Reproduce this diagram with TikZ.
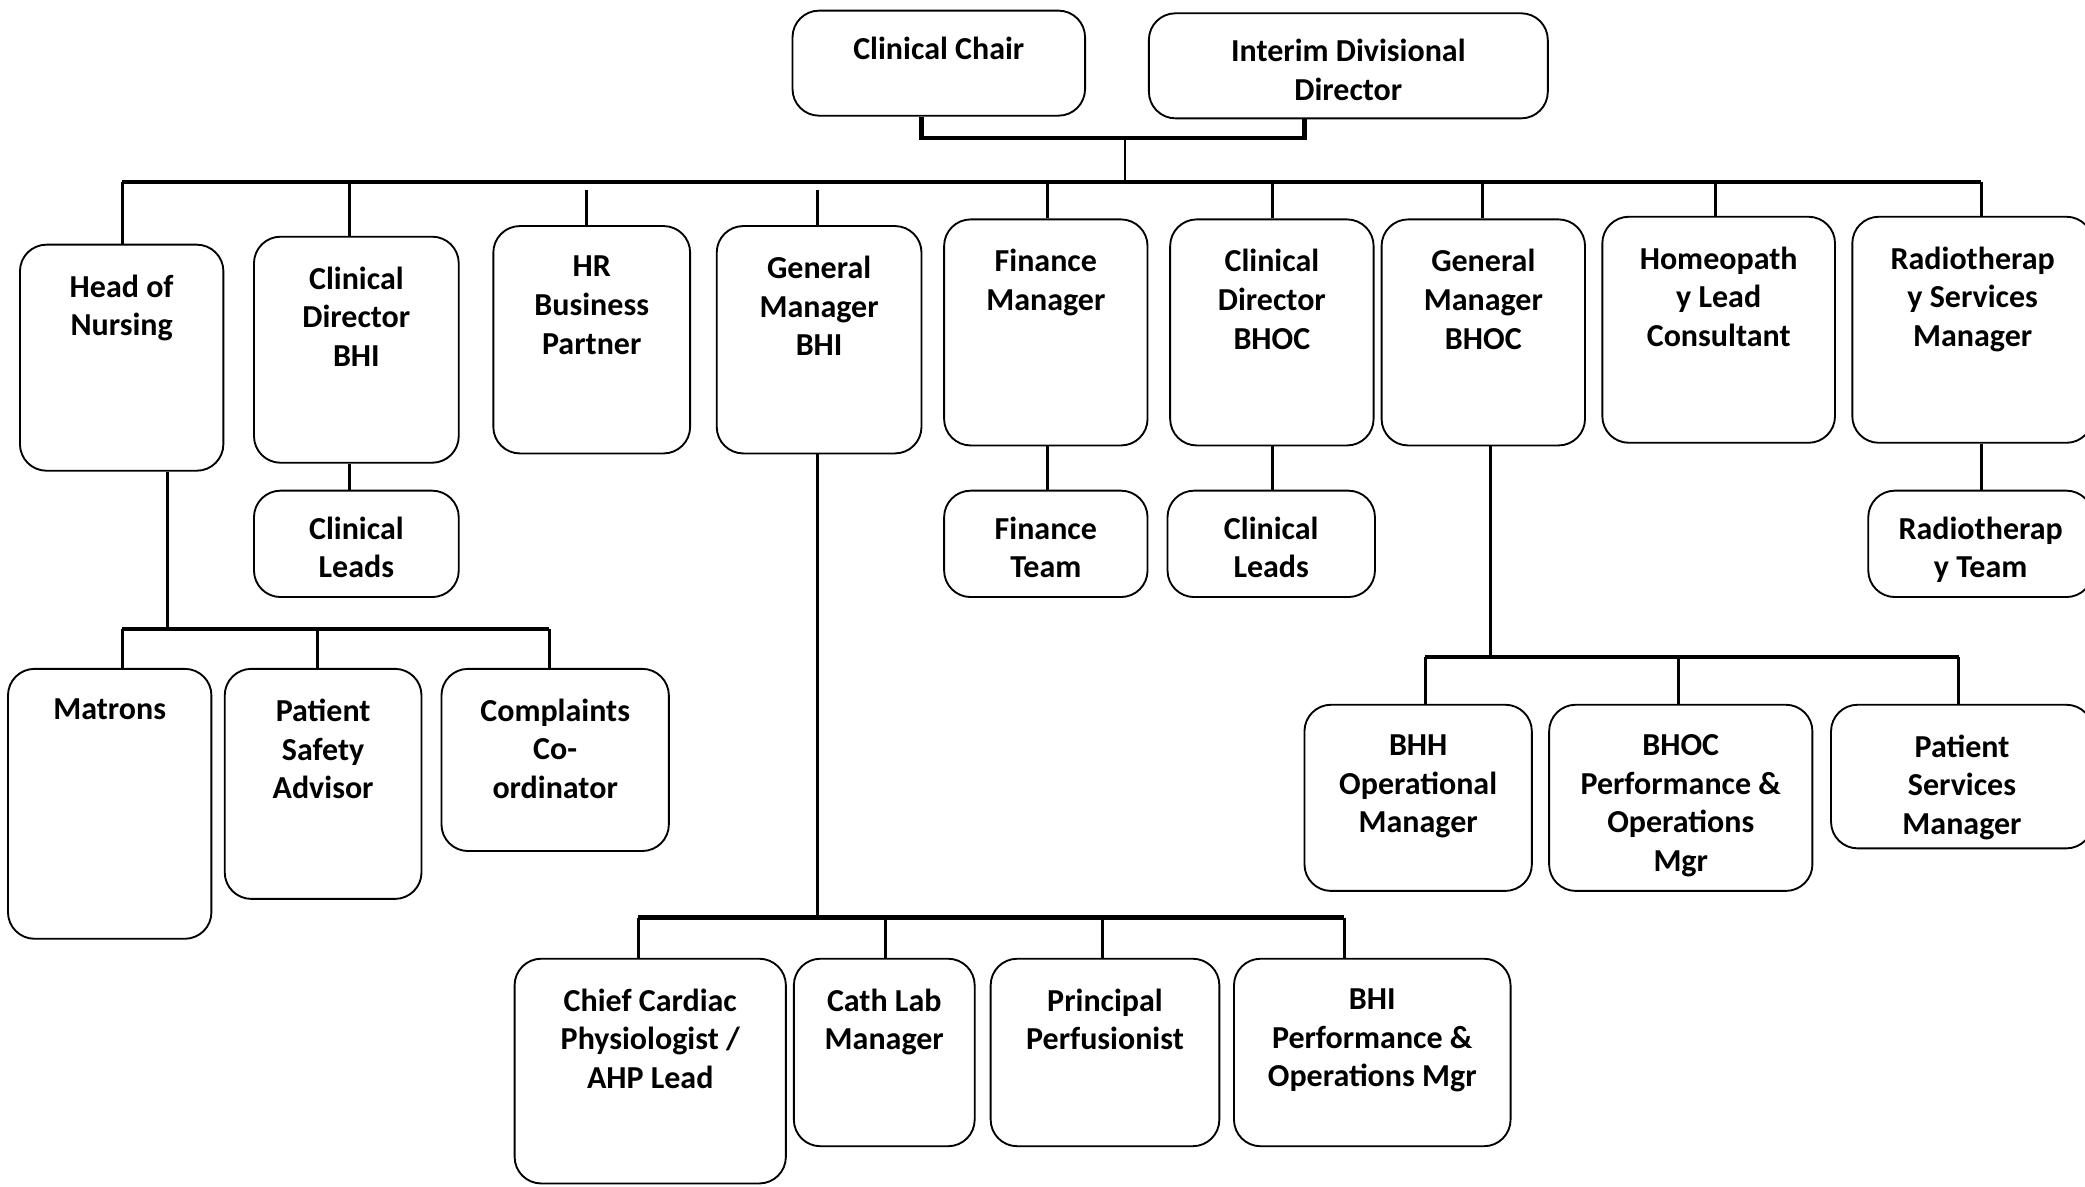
\documentclass[tikz,border=0pt]{standalone}
\usepackage{fontspec}
\setmainfont{Carlito}
\usetikzlibrary{fit}

\begin{document}
\begin{tikzpicture}[x=0.02cm, y=-0.02cm,
  post/.style={draw, line width=0.8pt, rounded corners=0.4cm, inner sep=0pt},
  lbl/.style={anchor=north, yshift=-0.46cm, align=center, inner sep=0pt,
    font=\fontsize{13.7}{16.5}\selectfont\bfseries},
  link/.style={line width=1.2pt},
  bus/.style={line width=1.8pt}]
 \fill[white] (0,0) rectangle (1568,892);
 \useasboundingbox (0,0) rectangle (1568,892);

 %% top
 \node[post, fit={(596,8) (816,87)}, label={[lbl, yshift=0.06cm]north:{Clinical Chair}}] (chair) {};
 \node[post, fit={(864,10) (1164,89)}, label={[lbl, yshift=0.06cm]north:{Interim Divisional\\Director}}] (idd) {};

 %% first row
 \node[post, fit={(15,184) (168,354)}, label={[lbl]north:{Head of\\Nursing}}] (hon) {};
 \node[post, fit={(191,178) (345,348)}, label={[lbl]north:{Clinical\\Director\\BHI}}] (cdbhi) {};
 \node[post, fit={(371,170) (519,341)}, label={[lbl]north:{HR\\Business\\Partner}}] (hr) {};
 \node[post, fit={(539,170) (693,341)}, label={[lbl]north:{General\\Manager\\BHI}}] (gmbhi) {};
 \node[post, fit={(710,165) (863,335)}, label={[lbl]north:{Finance\\Manager}}] (fm) {};
 \node[post, fit={(880,165) (1033,335)}, label={[lbl]north:{Clinical\\Director\\BHOC}}] (cdbhoc) {};
 \node[post, fit={(1039,165) (1192,335)}, label={[lbl]north:{General\\Manager\\BHOC}}] (gmbhoc) {};
 \node[post, fit={(1205,163) (1380,333)}, label={[lbl]north:{Homeopath\\y Lead\\Consultant}}] (hlc) {};
 \node[post, fit={(1393,163) (1574,333)}, label={[lbl]north:{Radiotherap\\y Services\\Manager}}] (rsm) {};

 %% second row
 \node[post, fit={(191,369) (345,449)}, label={[lbl, yshift=0.06cm]north:{Clinical\\Leads}}] (clbhi) {};
 \node[post, fit={(710,369) (863,449)}, label={[lbl, yshift=0.06cm]north:{Finance\\Team}}] (ft) {};
 \node[post, fit={(878,369) (1034,449)}, label={[lbl, yshift=0.06cm]north:{Clinical\\Leads}}] (clbhoc) {};
 \node[post, fit={(1405,369) (1574,449)}, label={[lbl, yshift=0.06cm]north:{Radiotherap\\y Team}}] (rt) {};

 %% nursing
 \node[post, fit={(6,503) (159,706)}, label={[lbl]north:{Matrons}}] (mat) {};
 \node[post, fit={(169,503) (317,676)}, label={[lbl]north:{Patient\\Safety\\Advisor}}] (psa) {};
 \node[post, fit={(332,503) (503,640)}, label={[lbl]north:{Complaints\\Co-\\ordinator}}] (cc) {};

 %% BHOC
 \node[post, fit={(981,530) (1152,670)}, label={[lbl]north:{BHH\\Operational\\Manager}}] (bhh) {};
 \node[post, fit={(1165,530) (1363,670)}, label={[lbl]north:{BHOC\\Performance \&\\Operations\\Mgr}}] (bhocpom) {};
 \node[post, fit={(1377,530) (1574,638)}, label={[lbl]north:{Patient\\Services\\Manager}}] (psm) {};

 %% BHI
 \node[post, fit={(387,721) (591,890)}, label={[lbl]north:{Chief Cardiac\\Physiologist /\\AHP Lead}}] (ccp) {};
 \node[post, fit={(597,721) (733,862)}, label={[lbl]north:{Cath Lab\\Manager}}] (clm) {};
 \node[post, fit={(745,721) (917,862)}, label={[lbl]north:{Principal\\Perfusionist}}] (pp) {};
 \node[post, fit={(928,721) (1136,862)}, label={[lbl]north:{BHI\\Performance \&\\Operations Mgr}}] (bhipom) {};

 %% connectors
 \draw[bus] (693,0 |- chair.south) |- (981,104) -- (981,0 |- idd.south);
 \draw[link] (846,104) -- (846,137);
 \draw[bus] (92,137) -- (1490,137);
 \foreach \x/\n in {92/hon, 263/cdbhi, 788/fm, 957/cdbhoc, 1115/gmbhoc, 1290/hlc, 1490/rsm}
   \draw[link] (\x,137) -- (\x,0 |- \n.north);
 \foreach \x/\n in {441/hr, 615/gmbhi}
   \draw[link] (\x,143) -- (\x,0 |- \n.north);

 \draw[link] (263,0 |- cdbhi.south) -- (263,0 |- clbhi.north);
 \draw[link] (788,0 |- fm.south) -- (788,0 |- ft.north);
 \draw[link] (957,0 |- cdbhoc.south) -- (957,0 |- clbhoc.north);
 \draw[link] (1490,0 |- rsm.south) -- (1490,0 |- rt.north);

 \draw[link] (126,0 |- hon.south) -- (126,473);
 \draw[bus] (92,473) -- (413,473);
 \foreach \x/\n in {92/mat, 239/psa, 413/cc}
   \draw[link] (\x,473) -- (\x,0 |- \n.north);

 \draw[link] (615,0 |- gmbhi.south) -- (615,690);
 \draw[bus] (480,690) -- (1011,690);
 \foreach \x/\n in {480/ccp, 666/clm, 829/pp, 1011/bhipom}
   \draw[link] (\x,690) -- (\x,0 |- \n.north);

 \draw[link] (1121,0 |- gmbhoc.south) -- (1121,494);
 \draw[bus] (1072,494) -- (1473,494);
 \foreach \x/\n in {1072/bhh, 1262/bhocpom, 1473/psm}
   \draw[link] (\x,494) -- (\x,0 |- \n.north);
\end{tikzpicture}
\end{document}
